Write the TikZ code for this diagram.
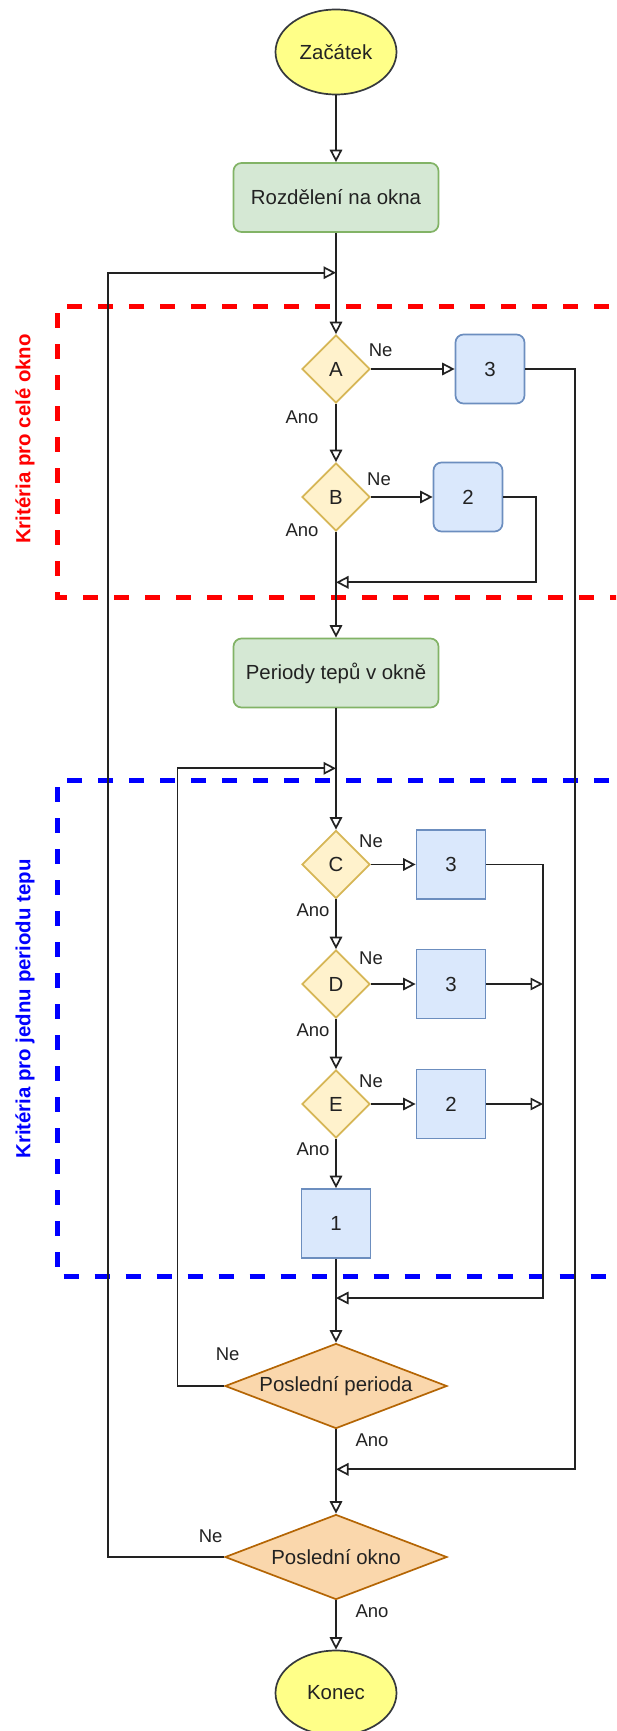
\documentclass[tikz,border=0pt]{standalone}
\usepackage{fontspec}
\setmainfont{Liberation Sans}
\usetikzlibrary{arrows.meta,shapes.geometric}
\definecolor{startfill}{HTML}{FFFF88}
\definecolor{startdraw}{HTML}{36393D}
\definecolor{gfill}{HTML}{D5E8D4}
\definecolor{gdraw}{HTML}{82B366}
\definecolor{yfill}{HTML}{FFF2CC}
\definecolor{ydraw}{HTML}{D6B656}
\definecolor{bfill}{HTML}{DAE8FC}
\definecolor{bdraw}{HTML}{6C8EBF}
\definecolor{ofill}{HTML}{FAD7AC}
\definecolor{odraw}{HTML}{B46504}
\definecolor{ink}{HTML}{222222}
\begin{document}
\begin{tikzpicture}[x=1pt,y=-1pt,
  every node/.style={font=\fontsize{20.4}{24}\selectfont, text=ink, inner sep=0pt},
  term/.style={ellipse, draw=startdraw, fill=startfill, line width=1.7pt, minimum width=121pt, minimum height=85pt},
  proc/.style={rectangle, rounded corners=8pt, draw=gdraw, fill=gfill, line width=1.7pt, minimum width=205pt, minimum height=69pt},
  dec/.style={diamond, draw=ydraw, fill=yfill, line width=1.7pt, minimum width=68pt, minimum height=68pt, aspect=1},
  bigdec/.style={diamond, draw=odraw, fill=ofill, line width=1.7pt, minimum width=222pt, minimum height=85pt, aspect=2.6},
  rbox/.style={rectangle, rounded corners=8pt, draw=bdraw, fill=bfill, line width=1.7pt, minimum width=69pt, minimum height=69pt},
  sbox/.style={rectangle, draw=bdraw, fill=bfill, line width=1.7pt, minimum width=69pt, minimum height=69pt},
  lbl/.style={font=\fontsize{18.5}{22}\selectfont},
  conn/.style={draw=ink, line width=1.7pt, -{Triangle[length=12.5pt,width=12.5pt,fill=white]}},
  wire/.style={draw=ink, line width=1.7pt},
  region/.style={line width=5pt, dash pattern=on 15pt off 16pt},
  regtext/.style={rotate=90, font=\bfseries\fontsize{20.4}{24}\selectfont},
]
\clip (0,0) rectangle (616,1731);

% regions
\draw[region, draw={rgb,255:red,255;green,0;blue,0}] (640,306.7) -- (57.3,306.7) -- (57.3,597) -- (640,597);
\draw[region, draw={rgb,255:red,0;green,0;blue,255}] (640,780.7) -- (57.3,780.7) -- (57.3,1276.7) -- (640,1276.7);
\node[regtext, text={rgb,255:red,255;green,0;blue,0}] (rtxt) at (25,439) {Kritéria pro celé okno};
\node[regtext, text={rgb,255:red,0;green,0;blue,255}] (btxt) at (25,1009) {Kritéria pro jednu periodu tepu};

% nodes
\node[term] (start) at (336,52) {Začátek};
\node[proc] (rozd) at (336,197.5) {Rozdělení na okna};
\node[dec] (A) at (336,369) {A};
\node[rbox] (b3A) at (490,369) {3};
\node[dec] (B) at (336,497) {B};
\node[rbox] (b2B) at (468,497) {2};
\node[proc] (per) at (336,673) {Periody tepů v okně};
\node[dec] (C) at (336,864.5) {C};
\node[sbox] (b3C) at (451,864.5) {3};
\node[dec] (D) at (336,984) {D};
\node[sbox] (b3D) at (451,984) {3};
\node[dec] (E) at (336,1104) {E};
\node[sbox] (b2E) at (451,1104) {2};
\node[sbox] (b1) at (336,1223.5) {1};
\node[bigdec] (PP) at (336,1386) {Poslední perioda};
\node[bigdec] (PO) at (336,1557) {Poslední okno};
\node[term] (kon) at (336,1693) {Konec};

% junctions and bends
\coordinate (j1) at (336,272.7);
\coordinate (j2) at (336,582.3);
\coordinate (j3) at (336,768.3);
\coordinate (j4) at (336,1298);
\coordinate (j5) at (336,1469.3);
\coordinate (c1) at (108,272.7);
\coordinate (c2) at (536,582.3);
\coordinate (c3) at (177.6,768.3);
\coordinate (c4) at (543,1298);
\coordinate (c5) at (575.3,1469.3);

% connectors
\draw[conn] (start) -- (rozd);
\draw[conn] (rozd) -- (A);
\draw[conn] (A) -- (b3A);
\draw[conn] (A) -- (B);
\draw[conn] (B) -- (b2B);
\draw[conn] (B) -- (per);
\draw[conn] (per) -- (C);
\draw[conn] (C) -- (b3C);
\draw[conn] (C) -- (D);
\draw[conn] (D) -- (b3D);
\draw[conn] (D) -- (E);
\draw[conn] (E) -- (b2E);
\draw[conn] (E) -- (b1);
\draw[conn] (b1) -- (PP);
\draw[conn] (PP) -- (PO);
\draw[conn] (PO) -- (kon);
\draw[conn] (b2B.east) -| (c2) -- (j2);
\draw[conn] (b3C.east) -| (c4) -- (j4);
\draw[conn] (b3D.east) -- (b3D.east -| c4);
\draw[conn] (b2E.east) -- (b2E.east -| c4);
\draw[conn] (b3A.east) -| (c5) -- (j5);
\draw[conn] (PP.west) -| (c3) -- (j3);
\draw[conn] (PO.west) -| (c1) -- (j1);

% labels
\node[lbl] (neA) at (380.7,350.7) {Ne};
\node[lbl] (anoA) at (302,417) {Ano};
\node[lbl] (neB) at (379,479) {Ne};
\node[lbl] (anoB) at (302,530) {Ano};
\node[lbl] (neC) at (371,841.7) {Ne};
\node[lbl] (anoC) at (313,910.7) {Ano};
\node[lbl] (neD) at (371,958) {Ne};
\node[lbl] (anoD) at (313,1030) {Ano};
\node[lbl] (neE) at (371,1081) {Ne};
\node[lbl] (anoE) at (313,1149.3) {Ano};
\node[lbl] (nePP) at (227.6,1354) {Ne};
\node[lbl] (anoPP) at (372,1440) {Ano};
\node[lbl] (nePO) at (210.6,1536) {Ne};
\node[lbl] (anoPO) at (372,1611) {Ano};
\end{tikzpicture}
\end{document}
